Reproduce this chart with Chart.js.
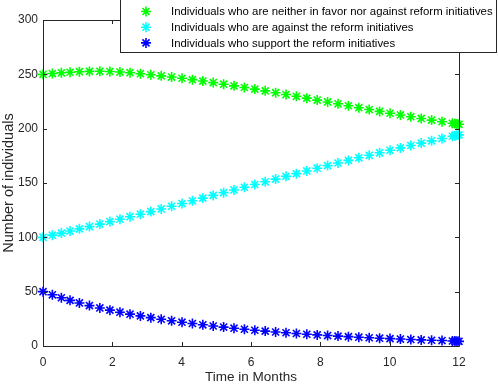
<!DOCTYPE html>
<html lang="en">
<head>
  <meta charset="UTF-8" />
  <title>Reform initiatives</title>
  <script src="https://cdn.jsdelivr.net/npm/chart.js"></script>
  <style>
    * { margin: 0; padding: 0; box-sizing: border-box; }
    body { background: #fff; width: 498px; height: 384px; overflow: hidden; }
    canvas { display: block; }
  </style>
</head>
<body>
  <canvas id="chart" width="498" height="384"></canvas>

  <script>
    // time points (months), solver output gets dense near 12
    const months = [0, 0.27, 0.53, 0.78, 1.05, 1.34, 1.64, 1.93, 2.22, 2.51, 2.81, 3.11, 3.41, 3.71, 4.01,
      4.31, 4.61, 4.91, 5.21, 5.51, 5.81, 6.11, 6.41, 6.71, 7.01, 7.31, 7.61, 7.91, 8.21, 8.51,
      8.81, 9.11, 9.41, 9.71, 10.01, 10.31, 10.61, 10.91, 11.21, 11.51, 11.81, 11.88, 11.94, 12.0];

    const neutral = [250, 250.7, 251.4, 251.9, 252.4, 252.7, 252.8, 252.6, 252.1, 251.5, 250.6, 249.6, 248.6, 247.5, 246.4,
      245.1, 243.8, 242.4, 240.9, 239.4, 237.9, 236.4, 234.8, 233.1, 231.4, 229.8, 228.1, 226.3, 224.6, 222.9,
      221.1, 219.3, 217.6, 215.9, 214.2, 212.6, 211.0, 209.4, 207.9, 206.4, 205.0, 204.7, 204.3, 204.0];

    const against = [100, 102, 103.9, 105.8, 107.8, 109.9, 112.2, 114.5, 116.7, 119.0, 121.3, 123.7, 126.1, 128.6, 131.1,
      133.6, 136.1, 138.6, 141.1, 143.6, 146.1, 148.6, 151.1, 153.6, 156.1, 158.6, 161.1, 163.6, 166.0, 168.4,
      170.8, 173.2, 175.5, 177.8, 180.1, 182.3, 184.5, 186.7, 188.8, 190.9, 193.0, 193.5, 193.9, 194.3];

    const support = [50, 47.1, 44.4, 42.0, 39.6, 37.2, 35.0, 33.0, 31.1, 29.3, 27.7, 26.1, 24.6, 23.2, 21.9,
      20.7, 19.5, 18.4, 17.4, 16.4, 15.4, 14.5, 13.7, 12.9, 12.2, 11.5, 10.8, 10.2, 9.6, 9.1,
      8.6, 8.1, 7.6, 7.2, 6.8, 6.4, 6.0, 5.6, 5.3, 5.0, 4.6, 4.5, 4.4, 4.3];

    const seriesLabels = [
      'Individuals who are neither in favor nor against reform initiatives',
      'Individuals who are against the reform initiatives',
      'Individuals who support the reform initiatives'
    ];
    const seriesColors = ['#00ff00', '#00ffff', '#0000ff'];

    const xTicks = [0, 2, 4, 6, 8, 10, 12];
    const yTicks = [0, 50, 100, 150, 200, 250, 300];

    const FONT = "'Liberation Sans', Arial, Helvetica, sans-serif";
    const AXIS_COLOR = '#262626';

    function toPoints(ys) {
      return months.map((m, i) => ({ x: m, y: ys[i] }));
    }

    function drawStar(ctx, x, y, r, color) {
      ctx.save();
      ctx.strokeStyle = color;
      ctx.lineWidth = 1.6;
      ctx.beginPath();
      for (let k = 0; k < 4; k++) {
        const a = k * Math.PI / 4;
        ctx.moveTo(x - Math.cos(a) * r, y - Math.sin(a) * r);
        ctx.lineTo(x + Math.cos(a) * r, y + Math.sin(a) * r);
      }
      ctx.stroke();
      ctx.restore();
    }

    // box + inward ticks like matlab, then the legend box over the top right corner
    const matlabAxes = {
      id: 'matlabAxes',
      afterDatasetsDraw(chart) {
        const { ctx, chartArea: a, scales } = chart;
        ctx.save();
        ctx.strokeStyle = AXIS_COLOR;
        ctx.lineWidth = 1;
        ctx.beginPath();
        ctx.rect(Math.round(a.left) + 0.5, Math.round(a.top) + 0.5,
          Math.round(a.right - a.left), Math.round(a.bottom - a.top));
        xTicks.forEach(v => {
          const px = Math.round(scales.x.getPixelForValue(v)) + 0.5;
          ctx.moveTo(px, a.bottom); ctx.lineTo(px, a.bottom - 4);
          ctx.moveTo(px, a.top); ctx.lineTo(px, a.top + 4);
        });
        yTicks.forEach(v => {
          const py = Math.round(scales.y.getPixelForValue(v)) + 0.5;
          ctx.moveTo(a.left, py); ctx.lineTo(a.left + 4, py);
          ctx.moveTo(a.right, py); ctx.lineTo(a.right - 4, py);
        });
        ctx.stroke();

        // legend
        const lx = 120.5, ly = -0.5, lw = 376, lh = 53;
        ctx.fillStyle = '#fff';
        ctx.fillRect(lx, ly, lw, lh);
        ctx.strokeStyle = AXIS_COLOR;
        ctx.strokeRect(lx, ly, lw, lh);
        ctx.font = '11.4px ' + FONT;
        ctx.fillStyle = '#000';
        ctx.textBaseline = 'middle';
        seriesLabels.forEach((lab, i) => {
          const ry = 11.5 + i * 15.7;
          drawStar(ctx, 146, ry, 5, seriesColors[i]);
          ctx.fillText(lab, 171, ry + 0.5);
        });
        ctx.restore();
      }
    };

    const ctx = document.getElementById('chart').getContext('2d');

    new Chart(ctx, {
      type: 'scatter',
      data: {
        datasets: [neutral, against, support].map((ys, i) => ({
          label: seriesLabels[i],
          data: toPoints(ys),
          showLine: false,
          pointStyle: 'star',
          pointRadius: 5,
          pointBorderWidth: 1.6,
          borderColor: seriesColors[i],
          backgroundColor: seriesColors[i],
          clip: false
        }))
      },
      options: {
        responsive: false,
        animation: false,
        devicePixelRatio: 1,
        layout: { padding: { left: 0, right: 39, top: 20, bottom: 0 } },
        plugins: {
          legend: { display: false },
          tooltip: { enabled: false }
        },
        scales: {
          x: {
            type: 'linear',
            min: 0,
            max: 12,
            afterBuildTicks: s => { s.ticks = xTicks.map(v => ({ value: v })); },
            afterFit: s => { s.height = 38; },
            grid: { display: false, drawTicks: false },
            border: { display: false },
            ticks: { padding: 9, color: AXIS_COLOR, font: { family: FONT, size: 12 }, maxRotation: 0 },
            title: {
              display: true,
              text: 'Time in Months',
              color: AXIS_COLOR,
              font: { family: FONT, size: 13.5 },
              padding: { top: 0, bottom: -1 }
            }
          },
          y: {
            min: 0,
            max: 300,
            afterBuildTicks: s => { s.ticks = yTicks.map(v => ({ value: v })); },
            afterFit: s => { s.width = 43; },
            grid: { display: false, drawTicks: false },
            border: { display: false },
            ticks: { padding: 5, color: AXIS_COLOR, font: { family: FONT, size: 12 } },
            title: {
              display: true,
              text: 'Number of individuals',
              color: AXIS_COLOR,
              font: { family: FONT, size: 14.5 },
              padding: { top: 0, bottom: 0 }
            }
          }
        }
      },
      plugins: [matlabAxes]
    });
  </script>
</body>
</html>
